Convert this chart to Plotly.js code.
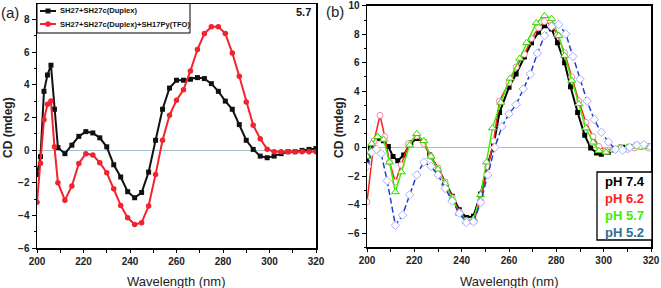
<!DOCTYPE html>
<html><head><meta charset="utf-8">
<script src="https://cdn.plot.ly/plotly-3.0.1.min.js"></script>
<style>html,body{margin:0;padding:0;background:#fff}#chart{width:661px;height:288px}</style>
</head><body><div id="chart"></div>
<script>
// ---- Panel (a) data ----
const aWavelength = [200,201.5,203,204.5,206,207.5,209,212,215,218,221,224,227,230,233,236,239,242,245,248,251,254,257,260,263,266,269,272,275,278,281,284,287,290,293,296,299,302,305,308,311,314,317,320];
const aDuplexCD = [-1.5,-0.4,3.6,4.6,5.2,2.5,0.15,-0.22,0.3,0.84,1.13,1.05,0.75,0.2,-0.9,-1.65,-2.55,-2.92,-2.6,-1.35,0.6,2.5,3.8,4.28,4.28,4.34,4.44,4.38,4.07,3.6,3.0,2.5,1.56,0.6,0.04,-0.37,-0.47,-0.37,-0.22,-0.1,-0.1,-0.02,0.04,0.1];
const aTfoCD = [-3.2,-0.8,1.86,2.8,3.0,0.2,-2.0,-3.07,-2.2,-0.82,-0.22,-0.3,-0.77,-1.39,-2.37,-3.39,-4.15,-4.56,-4.45,-3.43,-1.49,0.6,2.13,3.05,3.7,4.85,6.16,7.14,7.55,7.55,7.14,5.95,4.52,2.94,1.52,0.7,0.05,-0.1,-0.1,-0.1,-0.1,-0.1,-0.1,-0.1];
const aNames = ['SH27+SH27c(Duplex)','SH27+SH27c(Duplex)+SH17Py(TFO)'];
const aColors = ['#111111','#f2232d'];
const aPhLabel = '5.7';

// ---- Panel (b) data ----
const bX74 = [200,201.5,203,205,207,209,211,213,215.5,218.5,221,224,226.5,230,233,236,239,242,245,248,251,253.5,256,260,263,266.5,269.5,272.5,275,278,280.5,283.5,286,289,292,294.5,297,299,302,305,308,311,314,317,320];
const bY74 = [-1.0,0.0,0.5,0.66,0.5,0.1,-0.6,-0.9,-0.5,0.35,0.66,0.45,-0.5,-1.45,-2.4,-3.4,-4.35,-4.9,-4.8,-3.25,-1.15,0.2,2.5,4.28,5.2,6.4,7.4,8.15,8.6,8.38,7.4,6.0,4.3,2.5,0.89,0.0,-0.35,-0.45,-0.3,-0.1,0.05,0.1,0.2,0.2,0.1];
const bX62 = [200,203,205.5,207.5,209.5,212,214.5,217.5,221,224,227,230,233,236,239,242,245,248,251,253.5,256,260,263,266.5,269.5,272.5,275,278,280.5,283.5,286.5,289.5,292.5,295.5,298,301,304,307,310,313,316,319];
const bY62 = [-3.8,0.5,2.3,0.8,-1.0,-2.4,-1.2,0.3,0.85,0.3,-0.6,-1.4,-2.4,-3.5,-4.5,-5.1,-5.2,-3.7,-1.3,0.5,3.3,4.6,5.7,6.6,7.7,8.45,8.9,8.65,7.95,6.7,5.0,3.3,1.8,0.8,0.1,-0.2,-0.1,0.05,-0.1,0.0,0.1,0.0];
const bX57 = [200,202,204.5,207,209.5,212,214.5,218,221,224,227,230,233,236,239,242,245,248,250.5,253,256.5,260.5,264.5,267.5,271.5,275,278,281,283.5,286.5,289.5,292.5,295.5,298,301,304,307,310,313,316,319];
const bY57 = [-0.6,0.3,0.8,0.6,-1.0,-3.1,-1.7,0.2,1.0,0.5,-0.6,-1.5,-2.5,-3.6,-4.6,-5.2,-5.0,-3.3,-1.0,1.4,3.2,4.9,6.3,7.4,8.8,9.3,9.1,7.9,6.5,4.75,3.1,1.4,0.4,-0.2,-0.3,-0.15,0.0,0.05,0.1,0.05,0.1];
const bX52 = [200,202,204,206,208.5,212,215,218,221,224,227,230,233,236,239,242,245,248,251,254,257,260,263,266,269,272,275,278,281,284,287,290,293,296,299,302,305,308,311,314,317,320];
const bY52 = [-1.3,-0.3,-0.1,-0.4,-2.3,-5.45,-4.73,-3.3,-1.9,-1.0,-1.3,-1.9,-2.85,-3.75,-4.6,-5.25,-5.2,-3.85,-1.9,0.03,1.5,2.4,3.05,4.15,5.2,6.67,7.9,8.55,8.69,8.03,6.44,4.85,3.3,2.0,1.1,0.42,-0.1,-0.15,0.05,0.2,0.24,0.05];
const bLabels = ['pH 7.4','pH 6.2','pH 5.7','pH 5.2'];
const bLabelColors = ['#000000','#ff1a1a','#3cf000','#2f6f96'];

const xTitle = 'Wavelength (nm)';
const yTitle = 'CD (mdeg)';

const W = 661, H = 288;
const px = v => v / W;
const py = v => 1 - v / H;
const FONT = 'Arial, "Liberation Sans", sans-serif';

const traces = [
  {x: aWavelength, y: aDuplexCD, name: aNames[0], xaxis: 'x', yaxis: 'y', mode: 'lines+markers',
   line: {color: aColors[0], width: 2}, marker: {symbol: 'square', size: 5, color: aColors[0]}},
  {x: aWavelength, y: aTfoCD, name: aNames[1], xaxis: 'x', yaxis: 'y', mode: 'lines+markers',
   line: {color: aColors[1], width: 2}, marker: {symbol: 'circle', size: 5.5, color: aColors[1]}},
  {x: bX74, y: bY74, name: bLabels[0], xaxis: 'x2', yaxis: 'y2', mode: 'lines+markers',
   line: {color: '#000000', width: 2}, marker: {symbol: 'square', size: 5, color: '#000000'}},
  {x: bX62, y: bY62, name: bLabels[1], xaxis: 'x2', yaxis: 'y2', mode: 'lines+markers',
   line: {color: '#ff2020', width: 1.5}, marker: {symbol: 'circle', size: 6, color: '#ffffff', line: {color: '#f58aa5', width: 1}}},
  {x: bX57, y: bY57, name: bLabels[2], xaxis: 'x2', yaxis: 'y2', mode: 'lines+markers',
   line: {color: '#3cf000', width: 1.5}, marker: {symbol: 'triangle-up', size: 7, color: '#ffffff', line: {color: '#3cd000', width: 1}}},
  {x: bX52, y: bY52, name: bLabels[3], xaxis: 'x2', yaxis: 'y2', mode: 'lines+markers',
   line: {color: '#1f3fd0', width: 1.5, dash: '6px,3px'}, marker: {symbol: 'diamond', size: 6.5, color: '#ffffff', line: {color: '#a6afff', width: 1}}}
];

const xAxisBase = {range: [200, 320], tick0: 200, dtick: 20, ticks: 'outside', ticklen: 3, tickwidth: 1, tickcolor: '#000',
  minor: {dtick: 10, ticks: 'outside', ticklen: 3, tickcolor: '#000'},
  showline: true, mirror: true, linecolor: '#000', linewidth: 1.5, showgrid: false, zeroline: false,
  tickfont: {family: FONT, size: 10, color: '#222', weight: 'bold'}, fixedrange: true};
const yAxisBase = {tick0: 0, dtick: 2, ticks: 'outside', ticklen: 4, tickwidth: 1, tickcolor: '#000',
  minor: {dtick: 1, ticks: 'outside', ticklen: 2, tickcolor: '#000'},
  showline: true, mirror: true, linecolor: '#000', linewidth: 1.5, showgrid: false,
  zeroline: true, zerolinecolor: '#a9bfcc', zerolinewidth: 1,
  tickfont: {family: FONT, size: 10, color: '#222', weight: 'bold'}, fixedrange: true};

const annotations = [
  {text: '(a)', xref: 'paper', yref: 'paper', x: px(10), y: py(13), xanchor: 'center', yanchor: 'middle', showarrow: false, font: {family: FONT, size: 15, color: '#222'}},
  {text: '(b)', xref: 'paper', yref: 'paper', x: px(335), y: py(12), xanchor: 'center', yanchor: 'middle', showarrow: false, font: {family: FONT, size: 15, color: '#222'}},
  {text: aPhLabel, xref: 'paper', yref: 'paper', x: px(313), y: py(12), xanchor: 'right', yanchor: 'middle', showarrow: false, font: {family: FONT, size: 11, color: '#111', weight: 'bold'}},
  {text: xTitle, xref: 'paper', yref: 'paper', x: px(176), y: py(281), xanchor: 'center', yanchor: 'middle', showarrow: false, font: {family: FONT, size: 13, color: '#222'}},
  {text: xTitle, xref: 'paper', yref: 'paper', x: px(509), y: py(281), xanchor: 'center', yanchor: 'middle', showarrow: false, font: {family: FONT, size: 13, color: '#222'}},
  {text: yTitle, xref: 'paper', yref: 'paper', x: px(8), y: py(128), xanchor: 'center', yanchor: 'middle', textangle: -90, showarrow: false, font: {family: FONT, size: 12, color: '#222', weight: 'bold'}},
  {text: yTitle, xref: 'paper', yref: 'paper', x: px(339), y: py(128), xanchor: 'center', yanchor: 'middle', textangle: -90, showarrow: false, font: {family: FONT, size: 12, color: '#222', weight: 'bold'}}
];

// Panel (a) legend box, drawn by hand
const aLegRowY = [11, 24];
const shapes = [
  {type: 'rect', xref: 'paper', yref: 'paper', x0: px(37), x1: px(190), y0: py(33), y1: py(3.5), line: {color: '#000', width: 1}, fillcolor: '#ffffff', layer: 'above'}
];
aNames.forEach((n, i) => {
  const yy = aLegRowY[i];
  shapes.push({type: 'line', xref: 'paper', yref: 'paper', x0: px(40), x1: px(56), y0: py(yy), y1: py(yy), line: {color: aColors[i], width: 2}, layer: 'above'});
  if (i === 0) {
    shapes.push({type: 'rect', xref: 'paper', yref: 'paper', x0: px(45.5), x1: px(50.5), y0: py(yy + 2.5), y1: py(yy - 2.5), line: {color: aColors[i], width: 0}, fillcolor: aColors[i], layer: 'above'});
  } else {
    shapes.push({type: 'circle', xref: 'paper', yref: 'paper', x0: px(45.2), x1: px(50.8), y0: py(yy + 2.8), y1: py(yy - 2.8), line: {color: aColors[i], width: 0}, fillcolor: aColors[i], layer: 'above'});
  }
  annotations.push({text: n, xref: 'paper', yref: 'paper', x: px(58), y: py(yy), xanchor: 'left', yanchor: 'middle', showarrow: false,
    font: {family: FONT, size: 7.6, color: '#111', weight: 'bold'}});
});

// Panel (b) legend: text only, in a box
shapes.push({type: 'rect', xref: 'paper', yref: 'paper', x0: px(597), x1: px(652), y0: py(240), y1: py(172), line: {color: '#000', width: 1.3}, fillcolor: '#ffffff', layer: 'above'});
const legY = [181, 198, 215, 232];
bLabels.forEach((t, i) => annotations.push({text: t, xref: 'paper', yref: 'paper', x: px(603), y: py(legY[i]), xanchor: 'left', yanchor: 'middle', showarrow: false,
  font: {family: FONT, size: 13, color: bLabelColors[i], weight: 'bold'}}));

const layout = {
  width: W, height: H, margin: {l: 0, r: 0, t: 0, b: 0}, paper_bgcolor: '#fff', plot_bgcolor: '#fff',
  showlegend: false,
  xaxis: Object.assign({}, xAxisBase, {domain: [px(37), px(316)], anchor: 'y'}),
  yaxis: Object.assign({}, yAxisBase, {domain: [py(248), py(4)], range: [-6, 8.95], anchor: 'x'}),
  xaxis2: Object.assign({}, xAxisBase, {domain: [px(367), px(651)], anchor: 'y2'}),
  yaxis2: Object.assign({}, yAxisBase, {domain: [py(247.4), py(5.6)], range: [-7, 10.02], anchor: 'x2'}),
  annotations: annotations,
  shapes: shapes
};

Plotly.newPlot('chart', traces, layout, {staticPlot: true, displayModeBar: false});
</script></body></html>
